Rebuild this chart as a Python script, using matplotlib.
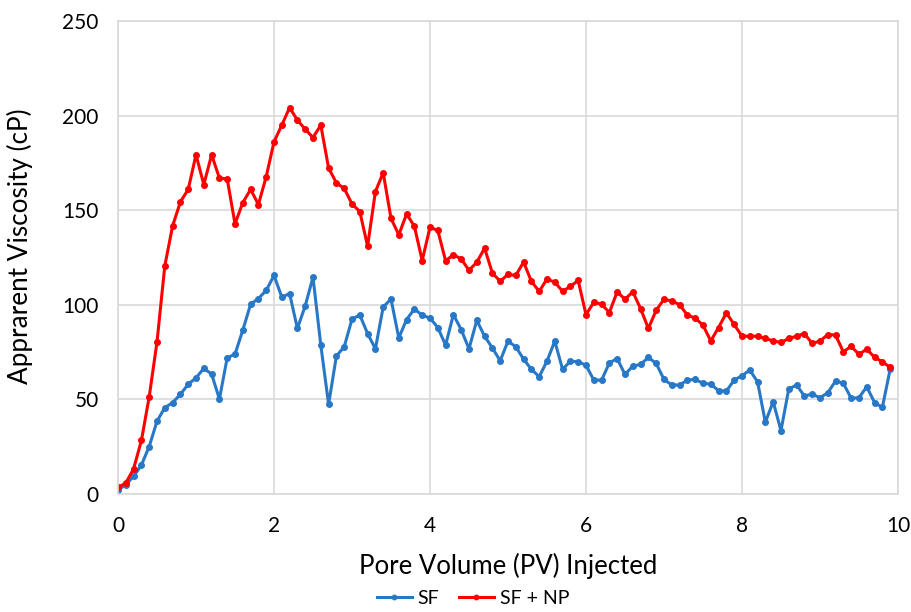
import numpy as np
import matplotlib.pyplot as plt

plt.rcParams['font.family'] = ['Lato', 'DejaVu Sans']

# pore volume injected, 0.0 .. 9.9 in steps of 0.1
pv = np.arange(100) / 10.0

sf = [2, 5, 9.3, 15.3, 25.1, 38.5, 45.6, 48.3, 52.7, 58.0,
      61.4, 66.4, 63.4, 50.2, 72.0, 73.9, 86.6, 100.3, 103.3, 107.6,
      115.5, 104.1, 105.9, 87.5, 99.4, 114.6, 78.7, 47.4, 72.9, 77.8,
      92.4, 94.6, 84.8, 76.7, 98.8, 103.1, 82.5, 92.2, 97.8, 94.5,
      93.0, 88.0, 78.7, 94.8, 86.9, 76.7, 91.8, 83.4, 77.2, 70.4,
      80.8, 77.8, 71.3, 65.9, 62.0, 70.2, 80.8, 65.9, 70.2, 69.9,
      68.1, 60.2, 60.2, 69.3, 71.6, 63.2, 67.6, 68.5, 72.2, 69.0,
      60.6, 57.6, 57.6, 60.2, 60.6, 58.5, 58.1, 54.6, 54.4, 60.2,
      62.5, 65.5, 59.3, 37.9, 48.8, 33.5, 55.5, 57.6, 51.8, 52.8,
      50.9, 53.5, 59.7, 58.5, 50.6, 50.9, 56.7, 48.3, 45.8, 65.9]

sf_np = [3.5, 5.8, 13.3, 28.3, 51.4, 80.4, 120.6, 141.7, 154.4, 161.0,
         179.3, 163.5, 179.3, 167.0, 166.5, 142.8, 154.0, 161.0, 153.0, 167.7,
         186.1, 195.0, 204.2, 197.6, 192.8, 188.4, 195.0, 172.3, 164.4, 161.5,
         153.3, 149.3, 131.0, 159.8, 169.8, 145.7, 137.0, 148.0, 141.5, 123.4,
         141.0, 139.3, 123.3, 126.4, 124.3, 118.2, 122.5, 129.9, 116.8, 112.4,
         116.1, 115.5, 122.6, 112.4, 107.1, 113.6, 112.0, 107.1, 109.7, 112.9,
         94.8, 101.3, 100.3, 95.9, 106.9, 102.9, 106.9, 98.0, 87.5, 97.1,
         102.9, 102.0, 100.1, 94.5, 93.0, 89.2, 80.9, 88.0, 95.7, 89.6,
         83.4, 83.4, 83.4, 82.2, 80.9, 80.1, 82.2, 83.4, 84.8, 79.6,
         80.8, 84.3, 84.0, 75.1, 78.1, 73.8, 76.6, 72.2, 69.9, 66.9]

fig = plt.figure(figsize=(9.12, 6.12), dpi=100)
ax = fig.add_axes([0.1294, 0.1928, 0.8552, 0.7729])

ax.plot(pv, sf, color='#2878c8', lw=2.2, marker='o', ms=4, label='SF')
ax.plot(pv, sf_np, color='#ff0000', lw=2.2, marker='o', ms=4, label='SF + NP')

ax.set_xlim(0, 10)
ax.set_ylim(0, 250)
ax.set_xticks(range(0, 11, 2))
ax.set_yticks(range(0, 251, 50))
ax.grid(True, color='#d9d9d9', lw=1.2)
ax.set_axisbelow(True)
for s in ax.spines.values():
    s.set_color('#d9d9d9')
    s.set_linewidth(1.2)
ax.tick_params(length=0, labelsize=15, colors='#000000')
ax.tick_params(axis='x', pad=16)
ax.tick_params(axis='y', pad=14)

ax.set_xlabel('Pore Volume (PV) Injected', fontsize=18.5, labelpad=12)
ax.set_ylabel('Apprarent Viscosity (cP)', fontsize=18.8, labelpad=21, y=0.524)

fig.legend(loc='center', bbox_to_anchor=(473 / 912, 0.022), ncol=2,
           frameon=False, fontsize=14, handlelength=1.8, handletextpad=0.3,
           columnspacing=1.0, markerscale=0.8)

fig.savefig('out.png', dpi=100)
